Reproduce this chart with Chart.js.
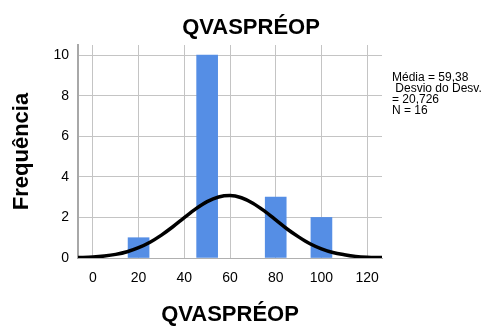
<!DOCTYPE html>
<html>
<head>
<meta charset="utf-8">
<script src="https://cdn.jsdelivr.net/npm/chart.js@4"></script>
<style>
  html, body { margin: 0; padding: 0; background: #fff; }
  #wrap { width: 499px; height: 326px; }
</style>
</head>
<body>
<div id="wrap"><canvas id="grafico"></canvas></div>
<script>
const classes = [20, 50, 80, 100];       // centro das barras
const frequencias = [1, 10, 3, 2];

// curva normal
const curvaX = [-6.5, 0, 5, 10, 15, 20, 25, 30, 35, 40, 45, 50, 55, 60, 65, 70, 75, 80, 85, 90, 95, 100, 105, 110, 115, 120, 126.5];
const curvaY = [0.02, 0.05, 0.10, 0.18, 0.31, 0.51, 0.78, 1.13, 1.54, 1.99, 2.42, 2.78, 3.01, 3.08, 2.97, 2.70, 2.32, 1.88, 1.43, 1.04, 0.70, 0.45, 0.27, 0.16, 0.08, 0.04, 0.02];

const ticksX = [0, 20, 40, 60, 80, 100, 120];
const ticksY = [0, 2, 4, 6, 8, 10];

const titulo = 'QVASPRÉOP';
const tituloX = 'QVASPRÉOP';
const tituloY = 'Frequência';
const estatisticas = ['Média = 59,38', ' Desvio do Desv.', '= 20,726', 'N = 16'];

const fonte = "'Liberation Sans', Arial, sans-serif";

// texto do título e caixa de estatísticas
const textosExtras = {
    id: 'textosExtras',
    afterDraw(chart) {
        const ctx = chart.ctx;
        ctx.save();
        ctx.fillStyle = '#000';
        ctx.font = `bold 22px ${fonte}`;
        ctx.textAlign = 'center';
        ctx.textBaseline = 'middle';
        ctx.fillText(titulo, 251, 28);

        ctx.font = `12px ${fonte}`;
        ctx.textAlign = 'left';
        ctx.textBaseline = 'top';
        estatisticas.forEach((linha, i) => {
            ctx.fillText(linha, 392, 72 + i * 11);
        });
        ctx.restore();
    }
};

const barras = classes.map((c, i) => ({ x: c, y: frequencias[i] }));
const curva = curvaX.map((x, i) => ({ x: x, y: curvaY[i] }));

new Chart(document.getElementById('grafico'), {
    type: 'bar',
    data: {
        datasets: [
            {
                type: 'line',
                data: curva,
                borderColor: '#000',
                borderWidth: 3.5,
                pointRadius: 0,
                cubicInterpolationMode: 'monotone',
                fill: false,
                order: 0
            },
            {
                type: 'bar',
                data: barras,
                backgroundColor: 'rgb(85,142,229)',
                borderWidth: 0,
                barThickness: 21,
                order: 1
            }
        ]
    },
    options: {
        responsive: true,
        maintainAspectRatio: false,
        animation: false,
        layout: { padding: { left: 0, right: 117, top: 45, bottom: 0 } },
        plugins: {
            legend: { display: false },
            tooltip: { enabled: false }
        },
        scales: {
            x: {
                type: 'linear',
                min: -6.5,
                max: 126.5,
                offset: false,
                afterBuildTicks: (s) => { s.ticks = ticksX.map(v => ({ value: v })); },
                afterFit: (s) => { s.height = 68; },
                grid: { color: '#c4c4c4', lineWidth: 1, drawTicks: false, offset: false },
                border: { display: true, color: '#b0b0b0', width: 1 },
                ticks: {
                    color: '#000',
                    padding: 12,
                    maxRotation: 0,
                    font: { family: fonte, size: 14 }
                },
                title: {
                    display: true,
                    text: tituloX,
                    color: '#000',
                    padding: { top: 0, bottom: 0 },
                    font: { family: fonte, size: 22, weight: 'bold', lineHeight: 1 }
                }
            },
            y: {
                min: 0,
                max: 10.5,
                afterBuildTicks: (s) => { s.ticks = ticksY.map(v => ({ value: v })); },
                afterFit: (s) => { s.width = 78; },
                grid: { color: '#c4c4c4', lineWidth: 1, drawTicks: false },
                border: { display: true, color: '#a8a8a8', width: 2 },
                ticks: {
                    color: '#000',
                    padding: 9,
                    font: { family: fonte, size: 14 }
                },
                title: {
                    display: true,
                    text: tituloY,
                    color: '#000',
                    padding: { top: 11, bottom: 0 },
                    font: { family: fonte, size: 22, weight: 'bold', lineHeight: 1 }
                }
            }
        }
    },
    plugins: [textosExtras]
});
</script>
</body>
</html>
